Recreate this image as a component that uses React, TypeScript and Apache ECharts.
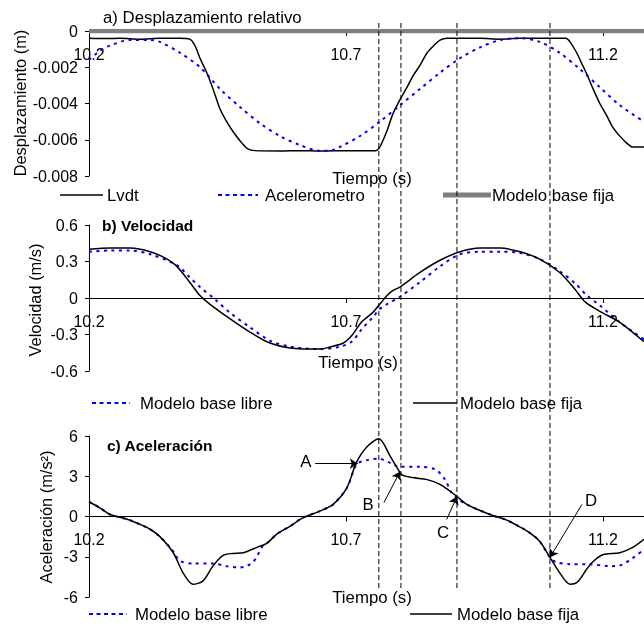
import React, { useEffect, useRef } from 'react';
import * as echarts from 'echarts';

const FONT = "'Liberation Sans', Arial, Helvetica, sans-serif";
const T0 = 10.2;
const T_MAX = 11.28;
const X_TICK_LABELS = ['10.2', '10.7', '11.2'];

// a) Desplazamiento relativo (m)
const dispLvdt: [number, number][] = [
  [10.2, -0.0004], [10.231, -0.00042], [10.26, -0.0004], [10.299, -0.00045], [10.338, -0.0004],
  [10.377, -0.0004], [10.396, -0.00045], [10.406, -0.0008], [10.416, -0.0015], [10.426, -0.0021],
  [10.435, -0.0027], [10.445, -0.0035], [10.455, -0.0043], [10.47, -0.0051], [10.484, -0.0057],
  [10.498, -0.0062], [10.509, -0.0065], [10.523, -0.0066], [10.572, -0.00662], [10.611, -0.0066],
  [10.649, -0.00662], [10.708, -0.0066], [10.758, -0.0066], [10.766, -0.0064], [10.78, -0.0055],
  [10.791, -0.0046], [10.805, -0.0038], [10.819, -0.0031], [10.83, -0.0025], [10.844, -0.0019],
  [10.858, -0.0012], [10.871, -0.0008], [10.883, -0.0005], [10.897, -0.0004], [10.961, -0.0004],
  [11.0, -0.00045], [11.039, -0.0004], [11.087, -0.0004], [11.128, -0.0004], [11.136, -0.0006],
  [11.149, -0.0012], [11.159, -0.0018], [11.169, -0.0024], [11.181, -0.0032], [11.194, -0.004],
  [11.208, -0.0047], [11.219, -0.0053], [11.233, -0.0058], [11.247, -0.0062], [11.258, -0.0064],
  [11.28, -0.0064],
];
const dispAcel: [number, number][] = [
  [10.2, -0.0016], [10.221, -0.0011], [10.241, -0.0008], [10.28, -0.0005], [10.319, -0.0005],
  [10.338, -0.0006], [10.377, -0.0012], [10.416, -0.002], [10.455, -0.0032], [10.494, -0.0042],
  [10.533, -0.0051], [10.572, -0.0058], [10.611, -0.0063], [10.649, -0.0066], [10.669, -0.0066],
  [10.688, -0.0064], [10.727, -0.0058], [10.766, -0.005], [10.805, -0.0041], [10.844, -0.0032],
  [10.883, -0.0023], [10.922, -0.0015], [10.961, -0.0009], [11.0, -0.0005], [11.039, -0.0004],
  [11.077, -0.0006], [11.116, -0.0012], [11.155, -0.0021], [11.194, -0.0031], [11.233, -0.0041],
  [11.28, -0.005],
];
const dispBase: [number, number][] = [[10.2, 0], [11.28, 0]];

// b) Velocidad (m/s)
const velFija: [number, number][] = [
  [10.2, 0.4], [10.241, 0.41], [10.28, 0.41], [10.319, 0.38], [10.352, 0.32], [10.371, 0.26],
  [10.396, 0.13], [10.416, 0.02], [10.435, -0.05], [10.474, -0.17], [10.513, -0.28],
  [10.552, -0.37], [10.591, -0.41], [10.649, -0.42], [10.671, -0.4], [10.695, -0.37],
  [10.711, -0.31], [10.73, -0.2], [10.752, -0.12], [10.766, -0.05], [10.78, 0.02],
  [10.791, 0.06], [10.805, 0.09], [10.844, 0.21], [10.883, 0.31], [10.922, 0.38],
  [10.961, 0.41], [11.0, 0.41], [11.039, 0.38], [11.077, 0.32], [11.116, 0.21],
  [11.146, 0.07], [11.165, -0.03], [11.194, -0.11], [11.233, -0.2], [11.28, -0.36],
];
const velLibre: [number, number][] = [
  [10.2, 0.38], [10.241, 0.39], [10.28, 0.39], [10.319, 0.36], [10.371, 0.27], [10.396, 0.17],
  [10.416, 0.09], [10.445, -0.01], [10.474, -0.12], [10.513, -0.24], [10.552, -0.35],
  [10.591, -0.4], [10.649, -0.42], [10.688, -0.4], [10.711, -0.36], [10.73, -0.26],
  [10.752, -0.16], [10.766, -0.09], [10.78, -0.05], [10.805, 0.01], [10.844, 0.13],
  [10.883, 0.26], [10.922, 0.36], [10.961, 0.38], [11.0, 0.38], [11.039, 0.37],
  [11.077, 0.32], [11.116, 0.22], [11.146, 0.12], [11.169, 0.02], [11.194, -0.06],
  [11.233, -0.2], [11.28, -0.34],
];

// c) Aceleración (m/s2)
const acFija: [number, number][] = [
  [10.2, 1.1], [10.221, 0.65], [10.241, 0.15], [10.274, -0.2], [10.3, -0.6], [10.319, -0.95],
  [10.338, -1.5], [10.364, -2.7], [10.383, -4.2], [10.402, -5.05], [10.422, -4.8],
  [10.441, -3.7], [10.461, -2.9], [10.48, -2.75], [10.5, -2.7], [10.527, -2.3],
  [10.546, -2.0], [10.566, -1.3], [10.591, -0.73], [10.616, -0.1], [10.649, 0.4],
  [10.675, 0.9], [10.702, 2.15], [10.72, 4.0], [10.741, 5.2], [10.764, 5.8],
  [10.786, 4.5], [10.8, 3.6], [10.809, 3.1], [10.83, 2.9], [10.858, 2.75],
  [10.883, 2.4], [10.902, 1.9], [10.916, 1.5], [10.935, 0.9], [10.961, 0.45],
  [10.986, 0.07], [11.012, -0.25], [11.037, -0.75], [11.057, -1.2], [11.077, -1.85],
  [11.097, -3.05], [11.116, -4.2], [11.136, -5.05], [11.15, -4.9], [11.169, -3.9],
  [11.181, -3.35], [11.2, -2.85], [11.233, -2.7], [11.258, -2.3], [11.28, -1.7],
];
const acLibre: [number, number][] = [
  [10.2, 1.1], [10.221, 0.65], [10.241, 0.15], [10.274, -0.2], [10.3, -0.6], [10.319, -0.95],
  [10.338, -1.5], [10.364, -2.6], [10.377, -3.3], [10.402, -3.5], [10.441, -3.5],
  [10.468, -3.7], [10.494, -3.8], [10.519, -3.4], [10.538, -2.2], [10.546, -2.0],
  [10.566, -1.3], [10.591, -0.73], [10.616, -0.1], [10.649, 0.4], [10.675, 0.9],
  [10.702, 2.15], [10.721, 3.9], [10.741, 4.2], [10.764, 4.3], [10.786, 4.0],
  [10.805, 3.7], [10.844, 3.7], [10.874, 3.5], [10.893, 2.75], [10.905, 1.8],
  [10.918, 1.3], [10.935, 0.9], [10.961, 0.45], [10.986, 0.07], [11.012, -0.25],
  [11.037, -0.75], [11.057, -1.2], [11.077, -1.85], [11.097, -3.05], [11.109, -3.4],
  [11.136, -3.55], [11.169, -3.55], [11.214, -3.7], [11.233, -3.65], [11.258, -3.1],
  [11.28, -2.45],
];

// vertical reference instants (s)
const markerTimes = [10.764, 10.807, 10.916, 11.097];

// annotations in panel c
const annotLabels = ['A', 'B', 'C', 'D'];
const annotTip: [number, number][] = [[10.723, 3.94], [10.805, 3.34], [10.916, 1.49], [11.097, -3.05]];
const annotTail: [number, number][] = [[10.64, 3.94], [10.774, 1.04], [10.896, -0.22], [11.159, 0.89]];
const annotText: [number, number][] = [[10.622, 4.09], [10.743, 0.89], [10.889, -1.19], [11.177, 1.19]];

const shift = (pts: [number, number][]) => pts.map(([t, v]) => [t - T0, v]);

const BLUE = '#0000ff';
const BLACK = '#000000';
const GREY = '#808080';
const BLUE_DASH = [3, 4.5];

const GRID_LEFT = 89;
const GRID_TOPS = [31, 225, 436];
const GRID_HEIGHTS = [145, 146, 161];
const Y_RANGES: [number, number, number][] = [[-0.008, 0, 0.002], [-0.6, 0.6, 0.3], [-6, 6, 3]];

function xAxisFor(i: number) {
  const [mn, mx] = Y_RANGES[i];
  // place the axis (line, ticks, labels) on the zero level of its y axis
  const offset = -GRID_HEIGHTS[i] * (0 - mn) / (mx - mn);
  return {
    gridIndex: i,
    type: 'value',
    position: 'bottom',
    offset,
    min: 0,
    max: T_MAX - T0,
    interval: 0.5,
    axisLine: { show: true, onZero: false, lineStyle: { color: BLACK, width: 1 } },
    axisTick: { show: true, length: 5, lineStyle: { color: BLACK } },
    splitLine: { show: false },
    axisLabel: {
      margin: 15,
      fontSize: 16,
      color: BLACK,
      fontFamily: FONT,
      showMaxLabel: false,
      formatter: (v: number) => {
        const s = (v + T0).toFixed(1);
        return X_TICK_LABELS.includes(s) && Math.abs(v * 2 - Math.round(v * 2)) < 1e-6 ? s : '';
      },
    },
  };
}

function yAxisFor(i: number, fmt: (v: number) => string) {
  const [min, max, interval] = Y_RANGES[i];
  return {
    gridIndex: i,
    type: 'value',
    min,
    max,
    interval,
    axisLine: { show: true, onZero: false, lineStyle: { color: BLACK, width: 1 } },
    axisTick: { show: true, length: 4, lineStyle: { color: BLACK } },
    splitLine: { show: false },
    axisLabel: { margin: 11, fontSize: 16, color: BLACK, fontFamily: FONT, formatter: fmt },
  };
}

const zeroFmt = (d: number) => (v: number) => (Math.abs(v) < 1e-9 ? '0' : v.toFixed(d));

function lineSeries(name: string, idx: number, pts: [number, number][], color: string, width: number, dashed: boolean) {
  return {
    name,
    type: 'line',
    xAxisIndex: idx,
    yAxisIndex: idx,
    data: shift(pts),
    showSymbol: false,
    symbol: 'none',
    smooth: 0.3,
    lineStyle: { color, width, type: dashed ? BLUE_DASH : 'solid' },
    silent: true,
    z: 3,
  };
}

function txt(text: string, x: number, y: number, opts: any = {}) {
  return {
    type: 'text',
    x,
    y,
    rotation: opts.rotation || 0,
    silent: true,
    z: 50,
    style: {
      text,
      fill: BLACK,
      font: `${opts.bold ? 'bold ' : ''}${opts.size || 16.8}px ${FONT}`,
      textAlign: opts.align || 'left',
      textVerticalAlign: 'middle',
      align: opts.align || 'left',
      verticalAlign: 'middle',
    },
  };
}

function legLine(x1: number, x2: number, y: number, color: string, width: number, dashed: boolean) {
  return {
    type: 'line',
    silent: true,
    z: 50,
    shape: { x1, y1: y, x2, y2: y },
    style: { stroke: color, lineWidth: width, lineDash: dashed ? [4, 3.5] : null },
  };
}

const staticGraphics = [
  txt('a) Desplazamiento relativo', 103, 17),
  txt('b) Velocidad', 102, 225, { bold: true, size: 15.5 }),
  txt('c) Aceleración', 107, 445, { bold: true, size: 15.5 }),
  txt('Desplazamiento (m)', 20, 103, { align: 'center', rotation: Math.PI / 2, size: 16.4 }),
  txt('Velocidad (m/s)', 35, 300, { align: 'center', rotation: Math.PI / 2, size: 16.4 }),
  txt('Aceleración (m/s²)', 46, 517, { align: 'center', rotation: Math.PI / 2, size: 16.4 }),
  txt('Tiempo (s)', 372, 178, { align: 'center' }),
  txt('Tiempo (s)', 358, 362, { align: 'center' }),
  txt('Tiempo (s)', 372, 597, { align: 'center' }),
  legLine(60, 103, 195, BLACK, 1.5, false),
  txt('Lvdt', 107, 195),
  legLine(218, 258, 195, BLUE, 2, true),
  txt('Acelerometro', 265, 195),
  legLine(443, 491, 195, GREY, 5, false),
  txt('Modelo base fija', 492, 195),
  legLine(92, 130, 403, BLUE, 2, true),
  txt('Modelo base libre', 140, 403),
  legLine(413, 457, 403, BLACK, 1.5, false),
  txt('Modelo base fija', 460, 403),
  legLine(89, 127, 614, BLUE, 2, true),
  txt('Modelo base libre', 135, 614),
  legLine(410, 452, 614, BLACK, 1.5, false),
  txt('Modelo base fija', 457, 614),
];

const option: any = {
  animation: false,
  textStyle: { fontFamily: FONT, color: BLACK },
  grid: GRID_TOPS.map((top, i) => ({
    left: GRID_LEFT,
    right: 0,
    top,
    height: GRID_HEIGHTS[i],
    containLabel: false,
    outerBoundsMode: 'none',
  })),
  xAxis: [xAxisFor(0), xAxisFor(1), xAxisFor(2)],
  yAxis: [
    yAxisFor(0, zeroFmt(3)),
    yAxisFor(1, zeroFmt(1)),
    yAxisFor(2, (v: number) => String(Math.round(v))),
  ],
  series: [
    lineSeries('Lvdt', 0, dispLvdt, BLACK, 1.5, false),
    lineSeries('Acelerometro', 0, dispAcel, BLUE, 2, true),
    { ...lineSeries('Modelo base fija', 0, dispBase, GREY, 4.5, false), smooth: false, z: 4 },
    lineSeries('Modelo base libre', 1, velLibre, BLUE, 2, true),
    lineSeries('Modelo base fija', 1, velFija, BLACK, 1.5, false),
    lineSeries('Modelo base libre', 2, acLibre, BLUE, 2, true),
    {
      ...lineSeries('Modelo base fija', 2, acFija, BLACK, 1.5, false),
      markLine: {
        silent: true,
        symbol: ['none', 'arrow'],
        symbolSize: 8,
        label: { show: false },
        lineStyle: { color: BLACK, width: 1, type: 'solid' },
        data: annotTip.map((tip, i) => [
          { coord: [annotTail[i][0] - T0, annotTail[i][1]] },
          { coord: [tip[0] - T0, tip[1]] },
        ]),
      },
    },
  ],
};

export default function App() {
  const ref = useRef<HTMLDivElement>(null);
  useEffect(() => {
    const chart = echarts.init(ref.current as HTMLDivElement, null, { renderer: 'svg' });
    chart.setOption(option);
    const vlines = markerTimes.map((t) => {
      const x = chart.convertToPixel({ xAxisIndex: 0 }, t - T0) as unknown as number;
      return {
        type: 'line',
        silent: true,
        z: 100,
        shape: { x1: x, y1: 23, x2: x, y2: 590 },
        style: { stroke: BLACK, lineWidth: 1, lineDash: [5, 3] },
      };
    });
    const letters = annotText.map(([t, v], i) => {
      const p = chart.convertToPixel({ gridIndex: 2 }, [t - T0, v]) as unknown as number[];
      return txt(annotLabels[i], p[0], p[1], { align: 'center' });
    });
    chart.setOption({ graphic: { elements: [...staticGraphics, ...vlines, ...letters] } });
    return () => chart.dispose();
  }, []);
  return <div ref={ref} style={{ position: 'fixed', left: 0, top: 0, width: 644, height: 626 }} />;
}
